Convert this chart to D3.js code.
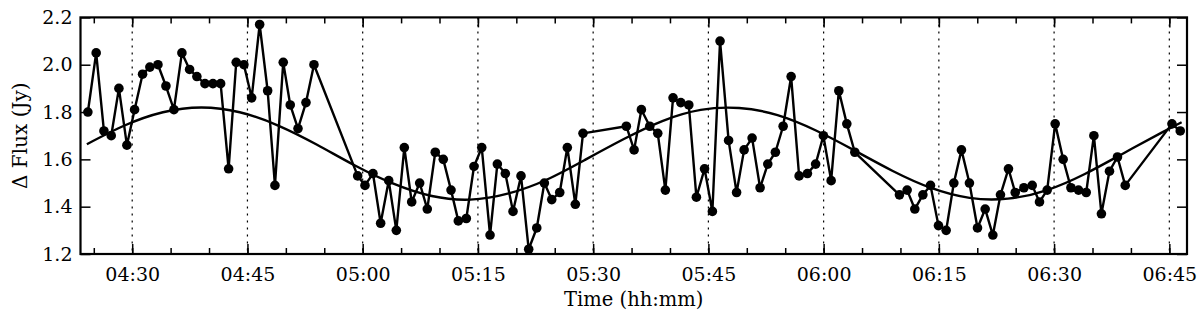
<!DOCTYPE html>
<html>
<head>
<meta charset="utf-8">
<script src="https://cdn.jsdelivr.net/npm/d3@7"></script>
<style>
  body { margin: 0; background: #fff; }
  svg { display: block; font-family: "DejaVu Serif", serif; }
</style>
</head>
<body>
<div class="graph"></div>
<script>
// observation times, minutes after 04:00
var times = [24.23, 25.31, 26.32, 27.27, 28.27, 29.31, 30.31, 31.35, 32.30, 33.35,
    34.39, 35.43, 36.47, 37.47, 38.42, 39.47, 40.51, 41.51, 42.55, 43.54,
    44.54, 45.55, 46.59, 47.63, 48.58, 49.66, 50.57, 51.58, 52.62, 53.66,
    59.35, 60.30, 61.34, 62.34, 63.39, 64.38, 65.42, 66.38, 67.42, 68.41,
    69.45, 70.49, 71.50, 72.45, 73.49, 74.49, 75.50, 76.58, 77.53, 78.57,
    79.57, 80.61, 81.61, 82.66, 83.65, 84.61, 85.65, 86.64, 87.68, 88.68,
    94.32, 95.33, 96.28, 97.37, 98.41, 99.40, 100.40, 101.41, 102.45, 103.44,
    104.50, 105.52, 106.52, 107.63, 108.67, 109.65, 110.69, 111.73, 112.73, 113.72,
    114.73, 115.77, 116.81, 117.89, 118.96, 119.97, 120.98, 121.98, 123.02, 124.06,
    129.87, 130.87, 131.87, 132.92, 133.91, 134.95, 135.95, 136.95, 137.94, 138.98,
    140.03, 141.03, 142.03, 143.02, 144.06, 144.94, 146.07, 147.15, 148.10, 149.10,
    150.14, 151.18, 152.19, 153.18, 154.18, 155.18, 156.16, 157.21, 158.25, 159.26,
    165.34, 166.42]

// delta flux in Jy
var flux = [1.80, 2.05, 1.72, 1.70, 1.90, 1.66, 1.81, 1.96, 1.99, 2.00,
    1.91, 1.81, 2.05, 1.98, 1.95, 1.92, 1.92, 1.92, 1.56, 2.01,
    2.00, 1.86, 2.17, 1.89, 1.49, 2.01, 1.83, 1.73, 1.84, 2.00,
    1.53, 1.49, 1.54, 1.33, 1.51, 1.30, 1.65, 1.42, 1.50, 1.39,
    1.63, 1.60, 1.47, 1.34, 1.35, 1.57, 1.65, 1.28, 1.58, 1.54,
    1.38, 1.53, 1.22, 1.31, 1.50, 1.43, 1.46, 1.65, 1.41, 1.71,
    1.74, 1.64, 1.81, 1.74, 1.71, 1.47, 1.86, 1.84, 1.83, 1.44,
    1.56, 1.38, 2.10, 1.68, 1.46, 1.64, 1.69, 1.48, 1.58, 1.63,
    1.74, 1.95, 1.53, 1.54, 1.58, 1.70, 1.51, 1.89, 1.75, 1.63,
    1.45, 1.47, 1.39, 1.45, 1.49, 1.32, 1.30, 1.50, 1.64, 1.50,
    1.31, 1.39, 1.28, 1.45, 1.56, 1.46, 1.48, 1.49, 1.42, 1.47,
    1.75, 1.60, 1.48, 1.47, 1.46, 1.70, 1.37, 1.55, 1.61, 1.49,
    1.75, 1.72]

// smooth fitted curve
var fitTimes = [24.1, 29, 34, 39, 44, 49, 54, 59, 64, 69, 74, 79, 84, 89, 94,
    99, 104, 109, 114, 119, 124, 129, 134, 139, 144, 149, 154, 159, 164, 166.6]
var fitFlux = [1.664, 1.743, 1.799, 1.819, 1.799, 1.743, 1.663, 1.574, 1.497, 1.445,
    1.430, 1.456, 1.515, 1.599, 1.686, 1.762, 1.809, 1.817, 1.787, 1.722,
    1.638, 1.551, 1.479, 1.437, 1.434, 1.469, 1.538, 1.625, 1.713, 1.757]

var yTicks = [1.2, 1.4, 1.6, 1.8, 2.0, 2.2]

var width = 1200,
    height = 317
var margin = {left: 80.5, right: 13, top: 17.4, bottom: 63}
var innerW = width - margin.left - margin.right,
    innerH = height - margin.top - margin.bottom

var base = new Date(2000, 0, 1, 4, 0, 0)
function toDate(m) {
    return new Date(base.getTime() + m * 60000)
}

var x = d3.scaleTime()
    .domain([toDate(23.27), toDate(167.3)])
    .range([0, innerW])

var y = d3.scaleLinear()
    .domain([1.2, 2.2])
    .range([innerH, 0])

var svg = d3.select('.graph').append('svg')
    .attr('width', width)
    .attr('height', height)

var g = svg.append('g')
    .attr('transform', `translate(${margin.left},${margin.top})`)

var majorTicks = x.ticks(d3.timeMinute.every(15))
var minorTicks = x.ticks(d3.timeMinute.every(5))

// dotted grid at major ticks
g.append('g')
    .selectAll('line')
    .data(majorTicks)
    .join('line')
    .attr('x1', d => x(d)).attr('x2', d => x(d))
    .attr('y1', 0).attr('y2', innerH)
    .attr('stroke', '#000')
    .attr('stroke-width', 1.2)
    .attr('stroke-dasharray', '2,5')

// inward ticks on all four sides
function tickAxis(axis, size, vals) {
    return axis.tickValues(vals).tickSize(-size).tickFormat('')
}
var fmt = d3.timeFormat('%H:%M')

var xb = g.append('g')
    .attr('transform', `translate(0,${innerH})`)
xb.append('g').call(tickAxis(d3.axisBottom(x), 6, minorTicks))
xb.append('g').call(d3.axisBottom(x).tickValues(majorTicks).tickSize(-10).tickPadding(14).tickFormat(fmt))

var xt = g.append('g')
xt.append('g').call(tickAxis(d3.axisTop(x), 6, minorTicks))
xt.append('g').call(tickAxis(d3.axisTop(x), 10, majorTicks))

g.append('g').call(d3.axisLeft(y).tickValues(yTicks).tickSize(-10).tickPadding(8).tickFormat(d3.format('.1f')))
g.append('g')
    .attr('transform', `translate(${innerW},0)`)
    .call(tickAxis(d3.axisRight(y), 10, yTicks))

g.selectAll('.domain').remove()
g.selectAll('.tick line').attr('stroke', '#000').attr('stroke-width', 1.5)
g.selectAll('.tick text')
    .attr('fill', '#000')
    .style('font-size', '19px')
    .style('font-family', '"DejaVu Serif", serif')

// frame
g.append('rect')
    .attr('width', innerW)
    .attr('height', innerH)
    .attr('fill', 'none')
    .attr('stroke', '#000')
    .attr('stroke-width', 2.2)

// fitted curve
var fit = fitTimes.map((t, i) => [t, fitFlux[i]])
g.append('path')
    .datum(fit)
    .attr('fill', 'none')
    .attr('stroke', '#000')
    .attr('stroke-width', 2.4)
    .attr('d', d3.line()
        .x(d => x(toDate(d[0])))
        .y(d => y(d[1]))
        .curve(d3.curveNatural))

// measurements
var pts = times.map((t, i) => [t, flux[i]])
g.append('path')
    .datum(pts)
    .attr('fill', 'none')
    .attr('stroke', '#000')
    .attr('stroke-width', 2.4)
    .attr('stroke-linejoin', 'round')
    .attr('d', d3.line()
        .x(d => x(toDate(d[0])))
        .y(d => y(d[1])))

g.append('g')
    .selectAll('circle')
    .data(pts)
    .join('circle')
    .attr('cx', d => x(toDate(d[0])))
    .attr('cy', d => y(d[1]))
    .attr('r', 4.8)
    .attr('fill', '#000')

// axis labels
svg.append('text')
    .attr('x', margin.left + innerW / 2)
    .attr('y', 306)
    .attr('text-anchor', 'middle')
    .style('font-size', '19.5px')
    .text('Time (hh:mm)')

svg.append('text')
    .attr('transform', `translate(27,${margin.top + innerH / 2}) rotate(-90)`)
    .attr('text-anchor', 'middle')
    .style('font-size', '20px')
    .text('Δ Flux (Jy)')
</script>
</body>
</html>
